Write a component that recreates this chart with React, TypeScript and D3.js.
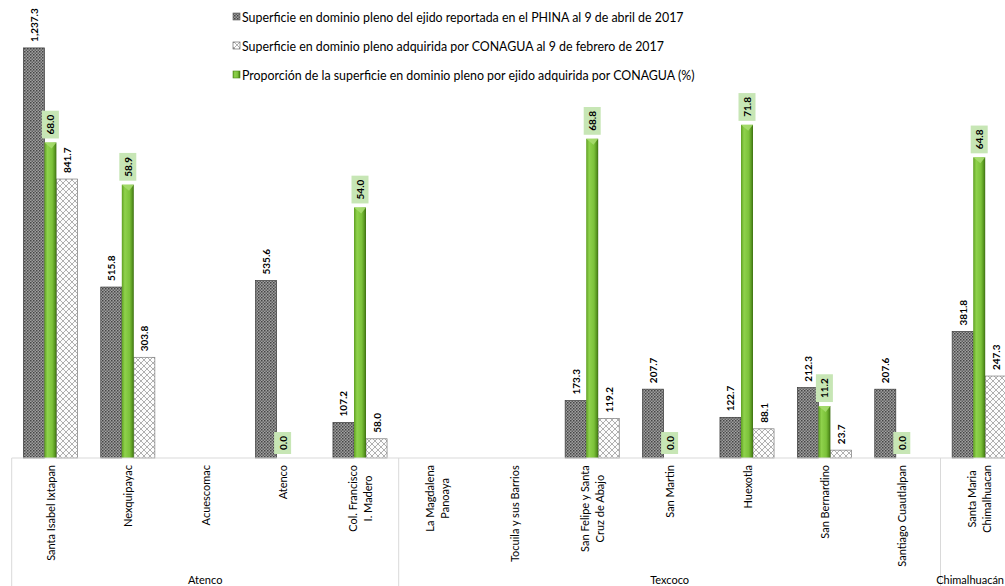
import React from "react";
import * as d3 from "d3";

const categories: string[][] = [
  ["Santa Isabel Ixtapan"],
  ["Nexquipayac"],
  ["Acuescomac"],
  ["Atenco"],
  ["Col. Francisco", "I. Madero"],
  ["La Magdalena", "Panoaya"],
  ["Tocuila y sus Barrios"],
  ["San Felipe y Santa", "Cruz de Abajo"],
  ["San Martin"],
  ["Huexotla"],
  ["San Bernardino"],
  ["Santiago Cuautlalpan"],
  ["Santa Maria", "Chimalhuacan"],
];

const groups = [
  { name: "Atenco", start: 0, end: 5 },
  { name: "Texcoco", start: 5, end: 12 },
  { name: "Chimalhuacán", start: 12, end: 13 },
];

const reportada: (number | null)[] = [1237.3, 515.8, null, 535.6, 107.2, null, null, 173.3, 207.7, 122.7, 212.3, 207.6, 381.8];
const adquirida: (number | null)[] = [841.7, 303.8, null, null, 58.0, null, null, 119.2, null, 88.1, 23.7, null, 247.3];
const proporcion: (number | null)[] = [68.0, 58.9, null, 0.0, 54.0, null, null, 68.8, 0.0, 71.8, 11.2, 0.0, 64.8];

const legendLabels = [
  "Superficie en dominio pleno del ejido reportada en el PHINA al 9 de abril de 2017",
  "Superficie en dominio pleno adquirida por CONAGUA al 9 de febrero de 2017",
  "Proporción de la superficie en dominio pleno por ejido adquirida por CONAGUA (%)",
];

const W = 1005;
const H = 586;
const FONT = "Lato, 'Open Sans', sans-serif";

let _ctx: CanvasRenderingContext2D | null = null;
function measure(text: string, font: string): number {
  if (!_ctx) {
    const c = document.createElement("canvas");
    _ctx = c.getContext("2d");
  }
  if (!_ctx) return text.length * 5;
  _ctx.font = font;
  return _ctx.measureText(text).width;
}

const fmt = d3.format(",.1f");

export default function App() {
  const baseY = 458;
  const x = d3
    .scaleBand<number>()
    .domain(d3.range(categories.length))
    .range([11.7, 11.7 + 77.4 * categories.length])
    .padding(0);
  const y1 = d3.scaleLinear().domain([0, 1400]).range([baseY, -6]);
  const y2 = d3.scaleLinear().domain([0, 100]).range([baseY, -6]);

  const bw = x.bandwidth();
  const gW = bw * 0.155;
  const pW = bw * 0.272;

  const catFontSize = 11;
  const catFont = `${catFontSize}px Lato`;
  const lblFontSize = 10;
  const lblFont = `bold ${lblFontSize}px Lato`;
  const grpFontSize = 11;
  const grpFont = `${grpFontSize}px Lato`;

  const cx = (i: number) => (x(i) as number) + bw / 2;

  return (
    <svg
      width={W}
      height={H}
      style={{ position: "absolute", left: 0, top: 0, background: "#fff" }}
      fontFamily={FONT}
    >
      <defs>
        <pattern id="darkPat" width="3" height="3" patternUnits="userSpaceOnUse">
          <rect width="3" height="3" fill="#a0a0a0" />
          <rect x="0" y="0" width="1.5" height="1.5" fill="#454545" />
          <rect x="1.5" y="1.5" width="1.5" height="1.5" fill="#5e5e5e" />
        </pattern>
        <pattern id="lightPat" width="6" height="6" patternUnits="userSpaceOnUse">
          <rect width="6" height="6" fill="#fdfdfd" />
          <path d="M0,0 L6,6 M6,0 L0,6" stroke="#a8a8a8" strokeWidth="0.9" />
        </pattern>
        <linearGradient id="greenGrad" x1="0" x2="1" y1="0" y2="0">
          <stop offset="0%" stopColor="#5f9f22" />
          <stop offset="25%" stopColor="#8fd24c" />
          <stop offset="65%" stopColor="#7cc23a" />
          <stop offset="85%" stopColor="#5b9a22" />
          <stop offset="100%" stopColor="#3d6f12" />
        </linearGradient>
      </defs>

      {/* legend */}
      {legendLabels.map((t, i) => {
        const ly = 17 + i * 29;
        const fill = i === 0 ? "url(#darkPat)" : i === 1 ? "url(#lightPat)" : "url(#greenGrad)";
        return (
          <g key={"lg" + i}>
            <rect x={233} y={ly - 4} width={7} height={7} fill={fill} stroke={i === 2 ? "#4f8a1a" : "#555"} strokeWidth={0.6} />
            <text x={242} y={ly} dominantBaseline="central" fontSize={12.4} fill="#000">
              {t}
            </text>
          </g>
        );
      })}

      {/* dark bars */}
      {reportada.map((v, i) =>
        v == null ? null : (
          <g key={"d" + i}>
            <rect
              x={cx(i) - gW / 2 - pW}
              y={y1(v)}
              width={pW}
              height={baseY - y1(v)}
              fill="url(#darkPat)"
              stroke="#3a3a3a"
              strokeWidth={0.7}
            />
            <text
              transform={`translate(${cx(i) - gW / 2 - pW / 2},${y1(v) - 6}) rotate(-90)`}
              dominantBaseline="central"
              textAnchor="start"
              fontSize={lblFontSize}
              fontWeight="bold"
              fill="#000"
            >
              {fmt(v)}
            </text>
          </g>
        )
      )}

      {/* light bars */}
      {adquirida.map((v, i) =>
        v == null ? null : (
          <g key={"l" + i}>
            <rect
              x={cx(i) + gW / 2}
              y={y1(v)}
              width={pW}
              height={baseY - y1(v)}
              fill="url(#lightPat)"
              stroke="#7a7a7a"
              strokeWidth={0.7}
            />
            <text
              transform={`translate(${cx(i) + gW / 2 + pW / 2},${y1(v) - 6}) rotate(-90)`}
              dominantBaseline="central"
              textAnchor="start"
              fontSize={lblFontSize}
              fontWeight="bold"
              fill="#000"
            >
              {fmt(v)}
            </text>
          </g>
        )
      )}

      {/* green bars */}
      {proporcion.map((v, i) => {
        if (v == null) return null;
        const top = y2(v);
        const left = cx(i) - gW / 2;
        const txt = fmt(v);
        const tw = measure(txt, lblFont);
        const boxH = tw + 8;
        const boxBottom = top - 4;
        return (
          <g key={"g" + i}>
            {v > 0 && (
              <>
                <rect x={left} y={top} width={gW} height={baseY - top} fill="url(#greenGrad)" />
                <path
                  d={`M${left},${top} L${left + gW},${top} L${left + gW * 0.6},${top + 6} Z`}
                  fill="#a6dc6e"
                  opacity={0.9}
                />
              </>
            )}
            <rect x={cx(i) - 8.5} y={boxBottom - boxH} width={17} height={boxH} fill="#c7e6b5" />
            <text
              transform={`translate(${cx(i)},${boxBottom - 4}) rotate(-90)`}
              dominantBaseline="central"
              textAnchor="start"
              fontSize={lblFontSize}
              fontWeight="bold"
              fill="#000"
            >
              {txt}
            </text>
          </g>
        );
      })}

      {/* axis line */}
      <line x1={11.7} x2={W} y1={baseY} y2={baseY} stroke="#d9d9d9" strokeWidth={1} />
      {groups.map((g, i) => (
        <line
          key={"gl" + i}
          x1={x(g.start) as number}
          x2={x(g.start) as number}
          y1={baseY}
          y2={H}
          stroke="#d9d9d9"
          strokeWidth={1}
        />
      ))}

      {/* category labels */}
      {categories.map((lines, i) => {
        const maxW = d3.max(lines, (l) => measure(l, catFont)) as number;
        const midY = 465 + maxW / 2;
        const lh = 15;
        return (
          <g key={"c" + i}>
            {lines.map((l, j) => (
              <text
                key={j}
                transform={`translate(${cx(i) + (j - (lines.length - 1) / 2) * lh},${midY}) rotate(-90)`}
                dominantBaseline="central"
                textAnchor="middle"
                fontSize={catFontSize}
                fill="#000"
              >
                {l}
              </text>
            ))}
          </g>
        );
      })}

      {/* group labels */}
      {groups.map((g, i) => {
        const center = ((x(g.start) as number) + (x(g.end - 1) as number) + bw) / 2;
        const tw = measure(g.name, grpFont);
        const gx = Math.min(center, W - 1 - tw / 2);
        return (
          <text
            key={"gt" + i}
            x={gx}
            y={579}
            dominantBaseline="central"
            textAnchor="middle"
            fontSize={grpFontSize}
            fill="#000"
          >
            {g.name}
          </text>
        );
      })}
    </svg>
  );
}
